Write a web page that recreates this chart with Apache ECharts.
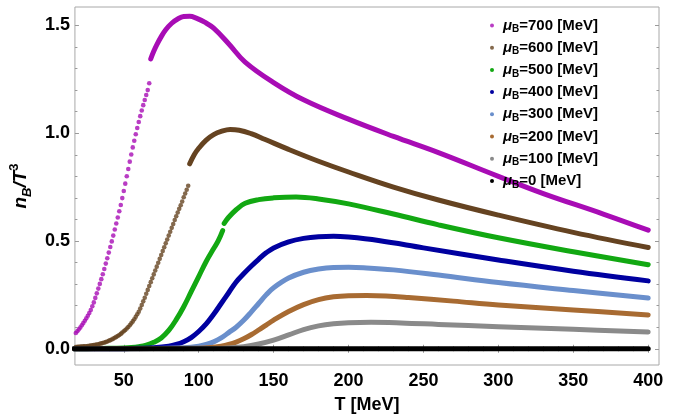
<!DOCTYPE html>
<html>
<head>
<meta charset="utf-8">
<script src="https://cdn.jsdelivr.net/npm/echarts@6/dist/echarts.min.js"></script>
<style>
html,body{margin:0;padding:0;background:#fff;}
#chart{width:676px;height:419px;}
</style>
</head>
<body>
<div id="chart"></div>
<script>
// ---- data (T in MeV, value = n_B/T^3) ----
const muLabels = ['700', '600', '500', '400', '300', '200', '100', '0'];
const colors = ['#a80cb5', '#654321', '#12a812', '#0000a0', '#6a8fcc', '#a86b32', '#8a8a8a', '#000000'];

// individual points visible in the steep low-T branches
const dots700 = [[17,0.066],[18,0.073],[19,0.081],[20,0.090],[21,0.099],[22,0.109],[23,0.119],[24,0.130],[25,0.141],[26,0.153],[27,0.166],[28,0.180],[29,0.197],[30,0.215],[31,0.236],[32,0.257],[33,0.279],[34,0.301],[35,0.323],[36,0.346],[37,0.370],[38,0.395],[39,0.420],[40,0.446],[41,0.472],[42,0.498],[43,0.525],[44,0.553],[45,0.581],[46,0.609],[47,0.638],[48,0.667],[49,0.699],[50,0.732],[51,0.766],[52,0.800],[53,0.834],[54,0.868],[55,0.901],[56,0.934],[57,0.965],[58,0.995],[59,1.024],[60,1.052],[61,1.079],[62,1.105],[63,1.130],[64,1.154],[65,1.177],[66,1.200],[67,1.232]];
const dots600 = [[17,0.008],[18,0.008],[19,0.009],[20,0.009],[21,0.010],[22,0.010],[23,0.011],[24,0.012],[25,0.012],[26,0.013],[27,0.014],[28,0.015],[29,0.016],[30,0.017],[31,0.018],[32,0.020],[33,0.021],[34,0.023],[35,0.025],[36,0.027],[37,0.029],[38,0.031],[39,0.034],[40,0.037],[41,0.040],[42,0.043],[43,0.047],[44,0.051],[45,0.055],[46,0.059],[47,0.064],[48,0.069],[49,0.075],[50,0.081],[51,0.087],[52,0.094],[53,0.101],[54,0.109],[55,0.118],[56,0.127],[57,0.137],[58,0.148],[59,0.160],[60,0.172],[61,0.187],[62,0.203],[63,0.220],[64,0.237],[65,0.255],[66,0.273],[67,0.291],[68,0.309],[69,0.327],[70,0.345],[71,0.363],[72,0.381],[73,0.399],[74,0.417],[75,0.435],[76,0.453],[77,0.471],[78,0.489],[79,0.507],[80,0.525],[81,0.543],[82,0.561],[83,0.579],[84,0.597],[85,0.615],[86,0.632],[87,0.649],[88,0.666],[89,0.683],[90,0.703],[91,0.720],[92,0.738],[93,0.756]];

// dense branches (drawn as thick curves)
const line700 = [[68,1.345],[70,1.38],[72,1.41],[75,1.448],[78,1.48],[82,1.51],[86,1.53],[90,1.541],[94,1.542],[98,1.535],[104,1.515],[110,1.487],[120,1.415],[131,1.33],[150,1.235],[170,1.155],[200,1.065],[230,0.985],[260,0.91],[300,0.80],[330,0.72],[370,0.625],[400,0.55]];
const line600 = [[94,0.858],[97,0.90],[100,0.93],[105,0.968],[110,0.993],[115,1.008],[121,1.017],[127,1.014],[135,0.998],[144,0.972],[160,0.925],[180,0.87],[200,0.82],[230,0.75],[260,0.69],[300,0.62],[350,0.54],[400,0.47]];
const line500a = [[17,0],[30,0.001],[40,0.002],[50,0.004],[55,0.006],[60,0.010],[65,0.017],[70,0.030],[75,0.050],[80,0.085],[85,0.135],[90,0.195],[95,0.265],[100,0.335],[105,0.405],[110,0.465],[113,0.50],[116,0.548]];
const line500b = [[117,0.582],[120,0.61],[125,0.645],[131,0.675],[140,0.692],[150,0.70],[165,0.704],[180,0.695],[200,0.672],[230,0.625],[260,0.575],[300,0.515],[350,0.45],[400,0.39]];
const line400 = [[17,0],[50,0.0005],[60,0.002],[70,0.005],[80,0.012],[85,0.02],[90,0.033],[95,0.052],[100,0.08],[105,0.115],[110,0.16],[115,0.21],[120,0.26],[125,0.31],[130,0.348],[135,0.383],[140,0.415],[145,0.445],[150,0.468],[160,0.496],[170,0.512],[180,0.52],[190,0.522],[200,0.518],[220,0.502],[250,0.468],[300,0.412],[350,0.36],[400,0.315]];
const line300 = [[17,0],[70,0.001],[90,0.005],[100,0.012],[105,0.02],[110,0.032],[115,0.05],[120,0.075],[125,0.10],[130,0.132],[135,0.17],[140,0.21],[145,0.25],[150,0.283],[160,0.328],[170,0.355],[180,0.37],[190,0.377],[200,0.378],[210,0.376],[230,0.366],[260,0.342],[300,0.307],[350,0.27],[400,0.235]];
const line200 = [[17,0],[100,0.002],[110,0.007],[115,0.012],[120,0.02],[125,0.031],[130,0.046],[135,0.065],[140,0.087],[145,0.11],[150,0.133],[160,0.173],[170,0.205],[180,0.228],[190,0.241],[200,0.246],[212,0.247],[225,0.245],[240,0.238],[270,0.221],[300,0.203],[350,0.18],[400,0.157]];
const line100 = [[17,0],[110,0.001],[120,0.004],[130,0.01],[140,0.022],[150,0.04],[160,0.064],[170,0.089],[180,0.106],[190,0.116],[200,0.121],[215,0.123],[235,0.12],[260,0.113],[300,0.102],[350,0.09],[400,0.078]];
const line0 = [[17,0],[100,0],[200,0],[300,0],[400,0]];

// ticks
const xMajor = [50, 100, 150, 200, 250, 300, 350, 400];
const xMinor = [20, 30, 40, 60, 70, 80, 90, 110, 120, 130, 140, 160, 170, 180, 190, 210, 220, 230, 240, 260, 270, 280, 290, 310, 320, 330, 340, 360, 370, 380, 390];
const yMajor = [0, 0.5, 1.0, 1.5];
const yMinor = [0.1, 0.2, 0.3, 0.4, 0.6, 0.7, 0.8, 0.9, 1.1, 1.2, 1.3, 1.4];

// ---- chart ----
const FONT = '"Liberation Sans", Arial, sans-serif';
const X_MIN = 17.4, X_MAX = 407.2, Y_MIN = -0.0753, Y_MAX = 1.5854;
const tickColor = '#9a9a9a';

function xAx(pos, ticks, len, labels) {
  return {
    type: 'value', position: pos, min: X_MIN, max: X_MAX,
    axisLine: {show: false}, splitLine: {show: false},
    axisTick: {show: true, inside: true, length: len, customValues: ticks, lineStyle: {color: tickColor, width: 1}},
    axisLabel: labels ? {show: true, customValues: ticks, fontFamily: FONT, fontWeight: 'bold', fontSize: 18, color: '#000', margin: 7} : {show: false},
  };
}
function yAx(pos, ticks, len, labels) {
  return {
    type: 'value', position: pos, min: Y_MIN, max: Y_MAX,
    axisLine: {show: false}, splitLine: {show: false},
    axisTick: {show: true, inside: true, length: len, customValues: ticks, lineStyle: {color: tickColor, width: 1}},
    axisLabel: labels ? {show: true, customValues: ticks, fontFamily: FONT, fontWeight: 'bold', fontSize: 18, color: '#000', margin: 5,
      formatter: v => v.toFixed(1)} : {show: false},
  };
}

const xAxes = [xAx('bottom', xMajor, 4, true), xAx('bottom', xMinor, 2.5, false), xAx('top', xMajor, 4, false), xAx('top', xMinor, 2.5, false)];
xAxes[0].name = 'T [MeV]';
xAxes[0].nameLocation = 'middle';
xAxes[0].nameGap = 31;
xAxes[0].nameTextStyle = {fontFamily: FONT, fontWeight: 'bold', fontSize: 18, color: '#000'};

const yAxes = [yAx('left', yMajor, 4, true), yAx('left', yMinor, 2.5, false), yAx('right', yMajor, 4, false), yAx('right', yMinor, 2.5, false)];
yAxes[0].name = '{i|n}{sub|B}{i|/T}{sup|3}';
yAxes[0].nameLocation = 'middle';
yAxes[0].nameRotate = 90;
yAxes[0].nameGap = 30;
yAxes[0].nameTextStyle = {
  fontFamily: FONT, color: '#000',
  rich: {
    i: {fontFamily: FONT, fontSize: 19, fontWeight: 'bold', fontStyle: 'italic', color: '#000', lineHeight: 26},
    sub: {fontFamily: FONT, fontSize: 13, fontWeight: 'bold', fontStyle: 'italic', color: '#000', lineHeight: 13, verticalAlign: 'bottom'},
    sup: {fontFamily: FONT, fontSize: 13, fontWeight: 'bold', color: '#000', lineHeight: 13, verticalAlign: 'top'}
  }
};

function lineSeries(name, data, color) {
  return {
    name: name, type: 'line', data: data, xAxisIndex: 0, yAxisIndex: 0,
    showSymbol: false, smooth: 0.4, clip: true,
    lineStyle: {color: color, width: 5, cap: 'round', join: 'round'},
    itemStyle: {color: color}, silent: true, animation: false
  };
}
function dotSeries(name, data, color) {
  return {
    name: name, type: 'scatter', data: data, xAxisIndex: 0, yAxisIndex: 0,
    symbol: 'circle', symbolSize: 4.6, clip: true,
    itemStyle: {color: color}, silent: true, animation: false
  };
}

const series = [
  dotSeries('700', dots700, colors[0]),
  lineSeries('700', line700, colors[0]),
  dotSeries('600', dots600, colors[1]),
  lineSeries('600', line600, colors[1]),
  lineSeries('500', line500a, colors[2]),
  lineSeries('500', line500b, colors[2]),
  lineSeries('400', line400, colors[3]),
  lineSeries('300', line300, colors[4]),
  lineSeries('200', line200, colors[5]),
  lineSeries('100', line100, colors[6]),
  lineSeries('0', line0, colors[7])
];

const chart = echarts.init(document.getElementById('chart'), null, {renderer: 'canvas'});
chart.setOption({
  animation: false,
  backgroundColor: '#fff',
  grid: {left: 68, right: 17, top: 7, bottom: 48, show: true, borderColor: '#a8a8a8', borderWidth: 1, backgroundColor: 'transparent'},
  xAxis: xAxes,
  yAxis: yAxes,
  legend: {
    orient: 'vertical', left: 485, top: 13, itemWidth: 4, itemHeight: 4, itemGap: 5.7,
    icon: 'circle', selectedMode: false,
    data: muLabels.map((m, i) => ({name: m, itemStyle: {color: colors[i]}})),
    formatter: name => '{mu|μ}{sub|B}{t|=' + name + ' [MeV]}',
    textStyle: {
      padding: [0, 0, 0, 4],
      rich: {
        mu: {fontFamily: FONT, fontSize: 15, fontWeight: 'bold', fontStyle: 'italic', color: '#000', lineHeight: 18},
        sub: {fontFamily: FONT, fontSize: 10, fontWeight: 'bold', color: '#000', lineHeight: 10, verticalAlign: 'bottom'},
        t: {fontFamily: FONT, fontSize: 15, fontWeight: 'bold', color: '#000', lineHeight: 18}
      }
    }
  },
  series: series
});
</script>
</body>
</html>
